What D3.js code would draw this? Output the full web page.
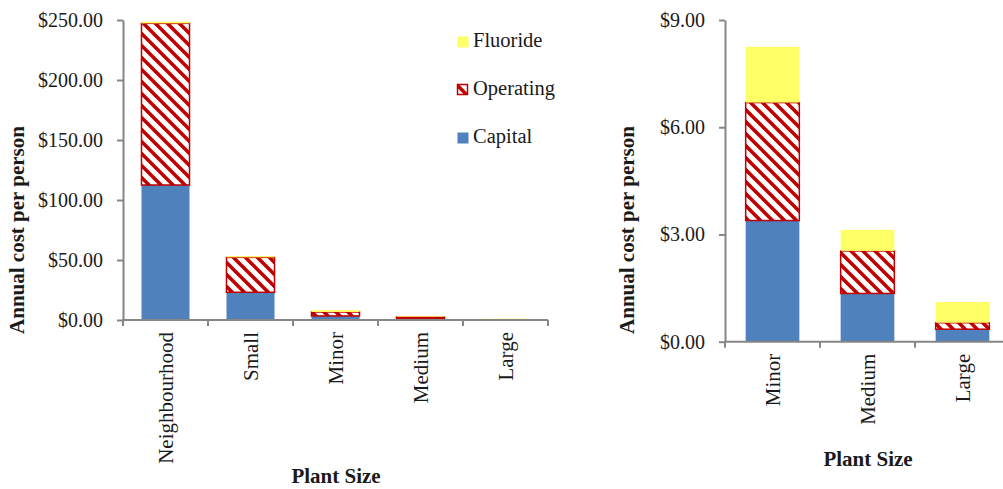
<!DOCTYPE html>
<html>
<head>
<meta charset="utf-8">
<script src="https://cdn.jsdelivr.net/npm/d3@7"></script>
</head>
<body style="margin:0;background:#fff">
<svg id="chart" width="1003" height="489"></svg>
<script>
// ---- data ----
const seriesNames = ["Capital", "Operating", "Fluoride"];

const categoriesLeft = ["Neighbourhood", "Small", "Minor", "Medium", "Large"];
const capitalLeft    = [112.5, 23.1, 3.39, 1.35, 0.35];
const operatingLeft  = [134.7, 29.1, 3.30, 1.19, 0.18];
const fluorideLeft   = [1.3, 1.0, 1.56, 0.59, 0.58];
const ticksLeft      = [0, 50, 100, 150, 200, 250];

const categoriesRight = ["Minor", "Medium", "Large"];
const capitalRight    = [3.39, 1.35, 0.35];
const operatingRight  = [3.30, 1.19, 0.18];
const fluorideRight   = [1.56, 0.59, 0.58];
const ticksRight      = [0, 3, 6, 9];

const yTitle = "Annual cost per person";
const xTitle = "Plant Size";

// ---- drawing ----
const FONT = "Liberation Serif";
const TEXT = "#1a1a1a";
const svg = d3.select("#chart");
const AXIS = "#868686";
const BLUE = "#4F81BD";
const RED = "#C00000";
const YELLOW = "#FFFF66";

function label(sel, size, weight) {
  return sel.attr("font-family", FONT)
    .style("font-family", FONT)
    .attr("font-size", size)
    .attr("font-weight", weight || "normal")
    .attr("fill", TEXT);
}

const defs = svg.append("defs");
const pat = defs.append("pattern")
  .attr("id", "hatch")
  .attr("patternUnits", "userSpaceOnUse")
  .attr("width", 12).attr("height", 12);
pat.append("rect").attr("width", 12).attr("height", 12).attr("fill", "#fff");
pat.append("path")
  .attr("d", "M-3,-3 L15,15 M-3,9 L3,15 M9,-3 L15,3")
  .attr("stroke", RED).attr("stroke-width", 3.6);

function buildRows(cats, cap, op, fl) {
  return cats.map((c, i) => ({ cat: c, Capital: cap[i], Operating: op[i], Fluoride: fl[i] }));
}

function drawChart(opt) {
  const rows = buildRows(opt.cats, opt.cap, opt.op, opt.fl);
  const stacked = d3.stack().keys(seriesNames)(rows);

  const x = d3.scaleBand().domain(opt.cats).range([opt.x0, opt.x1])
    .paddingInner(0.435).paddingOuter(0.2175);
  const y = d3.scaleLinear().domain([0, opt.ymax]).range([opt.yBottom, opt.yTop]);

  const g = svg.append("g");

  const fills = { Capital: BLUE, Operating: "url(#hatch)", Fluoride: YELLOW };
  stacked.forEach(layer => {
    g.append("g").selectAll("rect").data(layer).join("rect")
      .attr("x", d => x(d.data.cat))
      .attr("width", x.bandwidth())
      .attr("y", d => y(d[1]))
      .attr("height", d => Math.max(0, y(d[0]) - y(d[1])))
      .attr("fill", fills[layer.key])
      .attr("stroke", d => (layer.key === "Operating" && y(d[0]) - y(d[1]) >= 0.5) ? RED : "none")
      .attr("stroke-width", layer.key === "Operating" ? 1.5 : 0);
  });

  // y axis
  const yAxis = d3.axisLeft(y).tickValues(opt.ticks)
    .tickFormat(d3.format("$,.2f")).tickSize(6).tickSizeOuter(0).tickPadding(14);
  const ya = g.append("g").attr("transform", `translate(${opt.x0},0)`).call(yAxis);
  ya.attr("font-family", FONT).style("font-family", FONT);
  ya.select(".domain").attr("stroke", AXIS).attr("stroke-width", 2);
  ya.selectAll(".tick line").attr("stroke", AXIS).attr("stroke-width", 2);
  label(ya.selectAll(".tick text"), 20);

  // x axis (ticks at category boundaries)
  const step = x.step();
  g.append("line")
    .attr("x1", opt.x0 - 1).attr("x2", opt.x1)
    .attr("y1", opt.yBottom).attr("y2", opt.yBottom)
    .attr("stroke", AXIS).attr("stroke-width", 2);
  const bounds = d3.range(opt.cats.length + 1).map(i => opt.x0 + i * step);
  g.append("g").selectAll("line").data(bounds).join("line")
    .attr("x1", d => d).attr("x2", d => d)
    .attr("y1", opt.yBottom).attr("y2", opt.yBottom + 6)
    .attr("stroke", AXIS).attr("stroke-width", 2);

  // category labels, rotated
  label(g.append("g").selectAll("text").data(opt.cats).join("text"), 21)
    .attr("transform", d => `translate(${x(d) + x.bandwidth() / 2 + 7},${opt.yBottom + 12}) rotate(-90)`)
    .attr("text-anchor", "end")
    .text(d => d);

  // axis titles
  label(g.append("text"), 21, "bold")
    .attr("transform", `translate(${opt.yTitleX},${opt.yTitleY}) rotate(-90)`)
    .attr("text-anchor", "middle")
    .text(yTitle);
  label(g.append("text"), 21, "bold")
    .attr("x", opt.xTitleX).attr("y", opt.xTitleY)
    .attr("text-anchor", "middle")
    .text(xTitle);
}

drawChart({
  cats: categoriesLeft, cap: capitalLeft, op: operatingLeft, fl: fluorideLeft,
  ticks: ticksLeft, ymax: 250,
  x0: 123, x1: 548, yTop: 20, yBottom: 320,
  yTitleX: 24, yTitleY: 230, xTitleX: 336, xTitleY: 483
});

drawChart({
  cats: categoriesRight, cap: capitalRight, op: operatingRight, fl: fluorideRight,
  ticks: ticksRight, ymax: 9,
  x0: 725, x1: 1010, yTop: 20, yBottom: 341.7,
  yTitleX: 634, yTitleY: 230, xTitleX: 868, xTitleY: 466
});

// legend (left chart)
const legendItems = ["Fluoride", "Operating", "Capital"];
const legendFill = { Capital: BLUE, Operating: "url(#hatch)", Fluoride: YELLOW };
const lg = svg.append("g");
legendItems.forEach((name, i) => {
  const ly = 36 + i * 48;
  lg.append("rect")
    .attr("x", 457.5).attr("y", ly + 0.5)
    .attr("width", name === "Operating" ? 10 : 11).attr("height", name === "Operating" ? 10 : 11)
    .attr("fill", legendFill[name])
    .attr("stroke", name === "Operating" ? RED : "none")
    .attr("stroke-width", name === "Operating" ? 1.5 : 0);
  label(lg.append("text"), 20.5)
    .attr("x", 473).attr("y", ly + 11)
    .text(name);
});
</script>
</body>
</html>
